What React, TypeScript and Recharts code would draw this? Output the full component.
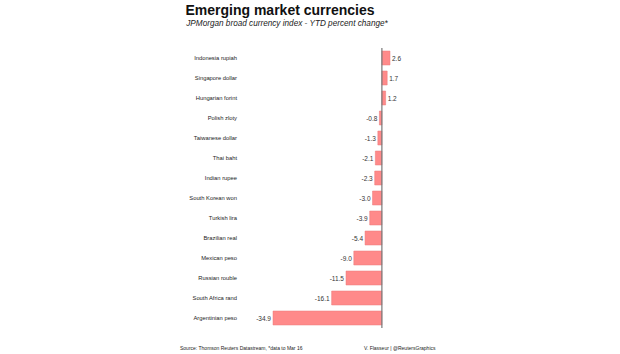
import { BarChart, Bar, XAxis, YAxis, ReferenceLine, LabelList } from "recharts";

const currencies = [
    "Indonesia rupiah",
    "Singapore dollar",
    "Hungarian forint",
    "Polish zloty",
    "Taiwanese dollar",
    "Thai baht",
    "Indian rupee",
    "South Korean won",
    "Turkish lira",
    "Brazilian real",
    "Mexican peso",
    "Russian rouble",
    "South Africa rand",
    "Argentinian peso",
];

const ytdChange = [2.6, 1.7, 1.2, -0.8, -1.3, -2.1, -2.3, -3.0, -3.9, -5.4, -9.0, -11.5, -16.1, -34.9];

const data = currencies.map((name, i) => ({ name, value: ytdChange[i] }));

const font = "Arial, 'Liberation Sans', sans-serif";

const ValueLabel = (props: any) => {
    const { x, y, width, height, value } = props;
    const neg = value < 0;
    const end = neg ? x + Math.min(width, 0) : x + width;
    return (
        <text
            x={neg ? end - 2 : end + 2}
            y={y + height / 2}
            dy={3}
            textAnchor={neg ? "end" : "start"}
            fontSize={6.5}
            fill="#333"
            fontFamily={font}
        >
            {value.toFixed(1)}
        </text>
    );
};

export default function App() {
    return (
        <div
            style={{
                position: "absolute",
                left: 0,
                top: 0,
                width: 620,
                height: 354,
                background: "#fff",
                fontFamily: font,
            }}
        >
            <div
                style={{
                    position: "absolute",
                    left: 0,
                    width: 560,
                    top: 2,
                    textAlign: "center",
                    fontSize: 14,
                    fontWeight: "bold",
                    color: "#111",
                }}
            >
                Emerging market currencies
            </div>
            <div
                style={{
                    position: "absolute",
                    left: 0,
                    width: 574,
                    top: 19,
                    textAlign: "center",
                    fontSize: 8.2,
                    fontStyle: "italic",
                    color: "#222",
                }}
            >
                JPMorgan broad currency index - YTD percent change*
            </div>
            <BarChart
                width={620}
                height={354}
                data={data}
                layout="vertical"
                margin={{ top: 48, right: 230, bottom: 26, left: 0 }}
                barCategoryGap={3}
            >
                <XAxis type="number" domain={[-34.9, 2.6]} hide />
                <YAxis
                    type="category"
                    dataKey="name"
                    width={273}
                    axisLine={false}
                    tickLine={false}
                    tickMargin={30}
                    tick={{ fontSize: 5.8, fill: "#222", fontFamily: font }}
                    interval={0}
                />
                <Bar
                    dataKey="value"
                    fill="#ff8a8a"
                    stroke="#e87878"
                    strokeWidth={0.5}
                    barSize={14}
                    isAnimationActive={false}
                >
                    <LabelList dataKey="value" content={<ValueLabel />} />
                </Bar>
                <ReferenceLine x={0} stroke="#777" strokeWidth={1.2} />
            </BarChart>
            <div
                style={{
                    position: "absolute",
                    left: 180,
                    top: 345,
                    fontSize: 5,
                    color: "#222",
                }}
            >
                Source: Thomson Reuters Datastream, *data to Mar 16
            </div>
            <div
                style={{
                    position: "absolute",
                    left: 364,
                    top: 345,
                    fontSize: 5,
                    color: "#222",
                }}
            >
                V. Flasseur | @ReutersGraphics
            </div>
        </div>
    );
}
